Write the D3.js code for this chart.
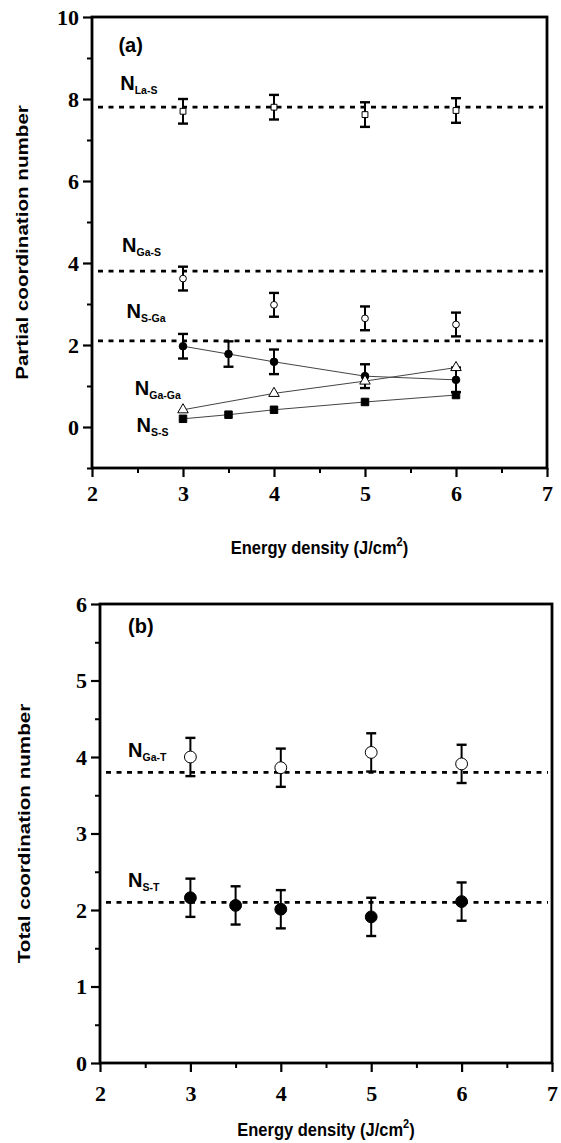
<!DOCTYPE html>
<html>
<head>
<meta charset="utf-8">
<script src="https://cdn.jsdelivr.net/npm/d3@7"></script>
<style>
  body { margin: 0; background: #fff; }
  svg { display: block; }
</style>
</head>
<body>
<div id="chart"></div>
<script>
// ---- panel (a) data ----
const refLaS = 7.8, refGaS = 3.8, refSGa = 2.1;
const xLaS = [3, 4, 5, 6];
const yLaS = [7.7, 7.8, 7.62, 7.72];
const eLaS = [0.3, 0.3, 0.3, 0.3];
const xGaS = [3, 4, 5, 6];
const yGaS = [3.62, 2.98, 2.65, 2.5];
const eGaS = [0.29, 0.29, 0.29, 0.29];
const xSGa = [3, 3.5, 4, 5, 6];
const ySGa = [1.97, 1.78, 1.59, 1.24, 1.15];
const eSGa = [0.3, 0.31, 0.3, 0.29, 0.3];
const xGaGa = [3, 4, 5, 6];
const yGaGa = [0.42, 0.82, 1.12, 1.45];
const xSS = [3, 3.5, 4, 5, 6];
const ySS = [0.2, 0.3, 0.42, 0.61, 0.78];

// ---- panel (b) data ----
const refGaT = 3.8, refST = 2.1;
const xGaT = [3, 4, 5, 6];
const yGaT = [4.0, 3.86, 4.06, 3.91];
const eGaT = [0.25, 0.25, 0.25, 0.25];
const xST = [3, 3.5, 4, 5, 6];
const yST = [2.16, 2.06, 2.01, 1.91, 2.11];
const eST = [0.25, 0.25, 0.25, 0.25, 0.25];

const W = 561, H = 1143;
const SANS = "'Liberation Sans', Arial, sans-serif";
const SERIF = "'Liberation Serif', 'Times New Roman', serif";

const svg = d3.select("#chart").append("svg")
    .attr("width", W).attr("height", H);

function zip(xs, ys, es) {
    return xs.map((x, i) => ({x: x, y: ys[i], e: es ? es[i] : 0}));
}

function styleTickText(sel) {
    sel.attr("font-family", SERIF).attr("font-size", 22);
    sel.selectAll("text")
        .attr("fill", "#000")
        .style("font-family", SERIF)
        .style("font-weight", "bold")
        .style("font-size", "22px");
}

function makePanel(box, yDom, yMajor, yMinor, yTitle) {
    let g = svg.append("g").attr("transform", `translate(${box.left},${box.top})`);
    let x = d3.scaleLinear().domain([2, 7]).range([0, box.width]);
    let y = d3.scaleLinear().domain(yDom).range([box.height, 0]);

    // minor ticks
    g.append("g").attr("transform", `translate(0,${box.height})`)
        .call(d3.axisBottom(x).tickValues([2.5, 3.5, 4.5, 5.5, 6.5]).tickSize(5).tickFormat(""))
        .call(a => a.select(".domain").remove())
        .selectAll("line").attr("stroke-width", 2);
    g.append("g")
        .call(d3.axisLeft(y).tickValues(yMinor).tickSize(5).tickFormat(""))
        .call(a => a.select(".domain").remove())
        .selectAll("line").attr("stroke-width", 2);

    // major ticks
    let xa = g.append("g").attr("transform", `translate(0,${box.height})`)
        .call(d3.axisBottom(x).tickValues([2, 3, 4, 5, 6, 7]).tickSize(9).tickPadding(box.xPad).tickFormat(d3.format("d")));
    xa.select(".domain").remove();
    xa.selectAll("line").attr("stroke-width", 2.2);
    styleTickText(xa);

    let ya = g.append("g")
        .call(d3.axisLeft(y).tickValues(yMajor).tickSize(9).tickPadding(4).tickFormat(d3.format("d")));
    ya.select(".domain").remove();
    ya.selectAll("line").attr("stroke-width", 2.2);
    styleTickText(ya);

    // frame
    g.append("rect")
        .attr("x", 0).attr("y", 0)
        .attr("width", box.width).attr("height", box.height)
        .attr("fill", "none").attr("stroke", "#000").attr("stroke-width", 2.8);

    // axis titles
    let xt = g.append("text")
        .attr("transform", `translate(${box.width / 2},${box.height + box.xTitleOff}) scale(1,1.15)`)
        .attr("text-anchor", "middle")
        .style("font-family", SANS).style("font-weight", "bold").style("font-size", "16.5px");
    xt.append("tspan").text("Energy density (J/cm");
    xt.append("tspan").attr("dy", -7).attr("font-size", "11px").text("2");
    xt.append("tspan").attr("dy", 7).text(")");

    g.append("text")
        .attr("transform", `translate(${box.yTitleX},${box.height / 2}) rotate(-90) scale(1.25,1)`)
        .attr("text-anchor", "middle")
        .style("font-family", SANS).style("font-weight", "bold").style("font-size", "16.5px")
        .text(yTitle);

    return {g: g, x: x, y: y};
}

function refLine(p, v) {
    p.g.append("line")
        .attr("x1", 6).attr("x2", p.x(7) - 4)
        .attr("y1", p.y(v)).attr("y2", p.y(v))
        .attr("stroke", "#000").attr("stroke-width", 2.8)
        .attr("stroke-dasharray", "5,5.5");
}

function series(p, data, opt) {
    if (opt.line) {
        p.g.append("path").datum(data)
            .attr("fill", "none").attr("stroke", "#444").attr("stroke-width", 1)
            .attr("d", d3.line().x(d => p.x(d.x)).y(d => p.y(d.y)));
    }
    let err = data.filter(d => d.e > 0);
    let eb = p.g.append("g").selectAll("g").data(err).enter().append("g");
    eb.append("line")
        .attr("x1", d => p.x(d.x)).attr("x2", d => p.x(d.x))
        .attr("y1", d => p.y(d.y + d.e)).attr("y2", d => p.y(d.y - d.e))
        .attr("stroke", "#000").attr("stroke-width", 2);
    [1, -1].forEach(s => {
        eb.append("line")
            .attr("x1", d => p.x(d.x) - 5).attr("x2", d => p.x(d.x) + 5)
            .attr("y1", d => p.y(d.y + s * d.e)).attr("y2", d => p.y(d.y + s * d.e))
            .attr("stroke", "#000").attr("stroke-width", 2.4);
    });
    let fill = opt.filled ? "#000" : "#fff";
    let sym = d3.symbol().type(opt.shape).size(opt.size);
    p.g.append("g").selectAll("path").data(data).enter().append("path")
        .attr("transform", d => `translate(${p.x(d.x)},${p.y(d.y)})`)
        .attr("d", sym)
        .attr("fill", fill).attr("stroke", "#000").attr("stroke-width", 1);
}

function label(p, xv, yv, main, sub) {
    let t = p.g.append("text")
        .attr("x", p.x(xv)).attr("y", p.y(yv))
        .style("font-family", SANS).style("font-weight", "bold")
        .style("font-size", "20px");
    t.append("tspan").text(main);
    if (sub) t.append("tspan").attr("dy", 4).style("font-size", "10.5px").text(sub);
}

// ---- panel (a) ----
const pa = makePanel({left: 92, top: 17, width: 455, height: 451, xPad: 8, xTitleOff: 86, yTitleX: -64},
    [-1, 10], [0, 2, 4, 6, 8, 10], [-1, 1, 3, 5, 7, 9], "Partial coordination number");

refLine(pa, refLaS);
refLine(pa, refGaS);
refLine(pa, refSGa);
series(pa, zip(xLaS, yLaS, eLaS), {shape: d3.symbolSquare, size: 34, filled: false});
series(pa, zip(xGaS, yGaS, eGaS), {shape: d3.symbolCircle, size: 36, filled: false});
series(pa, zip(xSGa, ySGa, eSGa), {shape: d3.symbolCircle, size: 46, filled: true, line: true});
series(pa, zip(xGaGa, yGaGa), {shape: d3.symbolTriangle, size: 48, filled: false, line: true});
series(pa, zip(xSS, ySS), {shape: d3.symbolSquare, size: 56, filled: true, line: true});

label(pa, 2.29, 9.15, "(a)", null);
label(pa, 2.31, 8.22, "N", "La-S");
label(pa, 2.33, 4.27, "N", "Ga-S");
label(pa, 2.38, 2.66, "N", "S-Ga");
label(pa, 2.47, 0.78, "N", "Ga-Ga");
label(pa, 2.49, -0.12, "N", "S-S");

// ---- panel (b) ----
const pb = makePanel({left: 100, top: 604, width: 452, height: 459, xPad: 13, xTitleOff: 73, yTitleX: -70},
    [0, 6], [0, 1, 2, 3, 4, 5, 6], [0.5, 1.5, 2.5, 3.5, 4.5, 5.5], "Total coordination number");

refLine(pb, refGaT);
refLine(pb, refST);
series(pb, zip(xGaT, yGaT, eGaT), {shape: d3.symbolCircle, size: 110, filled: false});
series(pb, zip(xST, yST, eST), {shape: d3.symbolCircle, size: 110, filled: true});

label(pb, 2.31, 5.62, "(b)", null);
label(pb, 2.31, 4.0, "N", "Ga-T");
label(pb, 2.31, 2.3, "N", "S-T");
</script>
</body>
</html>
